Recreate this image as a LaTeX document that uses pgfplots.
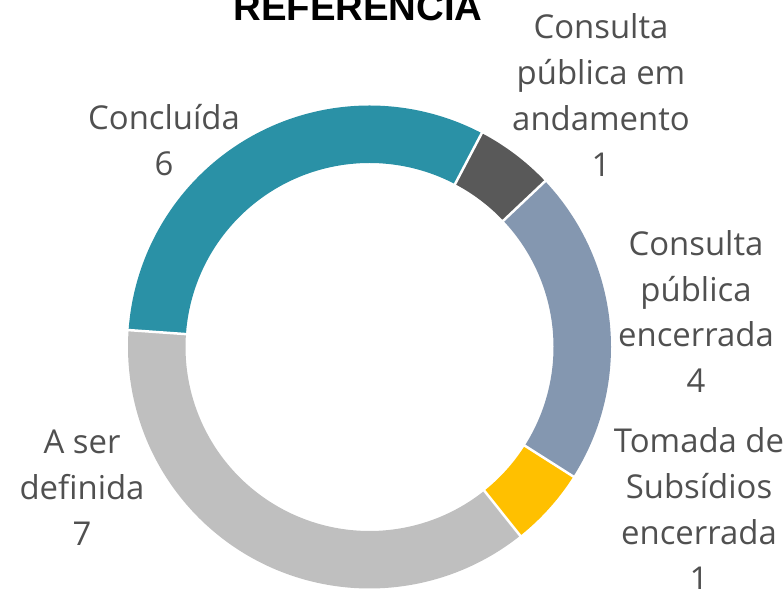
\documentclass[border=0pt]{standalone}
\usepackage{pgfplots}
\pgfplotsset{compat=1.18}
\usepackage{fontspec}
\setmainfont{Open Sans}
\newfontfamily\titlefont{Liberation Sans}
\definecolor{cTeal}{HTML}{2A91A6}
\definecolor{cDark}{HTML}{595959}
\definecolor{cBlue}{HTML}{8497B0}
\definecolor{cYellow}{HTML}{FFC000}
\definecolor{cLight}{HTML}{BFBFBF}
\definecolor{cText}{HTML}{505050}
\begin{document}
\begin{tikzpicture}
% values: em andamento, encerrada, tomada de subsidios, a ser definida, concluida
\def\vA{1}\def\vB{4}\def\vC{1}\def\vD{7}\def\vE{6}
\def\cx{369.5}\def\cy{242}\def\rmid{212.75}\def\st{27.7}
\pgfmathsetmacro\tot{\vA+\vB+\vC+\vD+\vE}
\pgfmathsetmacro\u{360/\tot}
\pgfmathsetmacro\bA{\st}
\pgfmathsetmacro\bB{\bA+\vA*\u}
\pgfmathsetmacro\bC{\bB+\vB*\u}
\pgfmathsetmacro\bD{\bC+\vC*\u}
\pgfmathsetmacro\bE{\bD+\vD*\u}
\pgfmathsetmacro\bF{\bE+\vE*\u}
\begin{axis}[x=1bp,y=1bp,xmin=0,xmax=784,ymin=0,ymax=589,hide axis,scale only axis,clip=false,samples=120]
\coordinate (LL) at (rel axis cs:0,0);
\coordinate (UR) at (rel axis cs:1,1);
\addplot[cDark, line width=57.5bp, domain=\bA:\bB, no markers] ({\cx+\rmid*sin(x)},{\cy+\rmid*cos(x)});
\addplot[cBlue, line width=57.5bp, domain=\bB:\bC, no markers] ({\cx+\rmid*sin(x)},{\cy+\rmid*cos(x)});
\addplot[cYellow, line width=57.5bp, domain=\bC:\bD, no markers] ({\cx+\rmid*sin(x)},{\cy+\rmid*cos(x)});
\addplot[cLight, line width=57.5bp, domain=\bD:\bE, no markers] ({\cx+\rmid*sin(x)},{\cy+\rmid*cos(x)});
\addplot[cTeal, line width=57.5bp, domain=\bE:\bF, no markers] ({\cx+\rmid*sin(x)},{\cy+\rmid*cos(x)});
% white separators at slice boundaries
\addplot[white, line width=2.5bp, domain=178:247, samples=2, no markers] ({\cx+x*sin(\bA)},{\cy+x*cos(\bA)});
\addplot[white, line width=2.5bp, domain=178:247, samples=2, no markers] ({\cx+x*sin(\bB)},{\cy+x*cos(\bB)});
\addplot[white, line width=2.5bp, domain=178:247, samples=2, no markers] ({\cx+x*sin(\bC)},{\cy+x*cos(\bC)});
\addplot[white, line width=2.5bp, domain=178:247, samples=2, no markers] ({\cx+x*sin(\bD)},{\cy+x*cos(\bD)});
\addplot[white, line width=2.5bp, domain=178:247, samples=2, no markers] ({\cx+x*sin(\bE)},{\cy+x*cos(\bE)});
% labels
\tikzset{lab/.style={align=center, text=cText, font=\fontsize{33}{46}\selectfont}}
\node[lab] at (axis cs:164,449) {Concluída\\6};
\node[lab] at (axis cs:601,494) {Consulta\\pública em\\andamento\\1};
\node[lab] at (axis cs:696,277.5) {Consulta\\pública\\encerrada\\4};
\node[lab] at (axis cs:699,80) {Tomada de\\Subsídios\\encerrada\\1};
\node[lab] at (axis cs:82,101) {A ser\\definida\\7};
\node[anchor=base, font=\titlefont\bfseries\fontsize{38.5}{40}\selectfont] at (axis cs:358,568) {REFERÊNCIA};
\end{axis}
\pgfresetboundingbox
\path (LL) rectangle (UR);
\end{tikzpicture}
\end{document}
